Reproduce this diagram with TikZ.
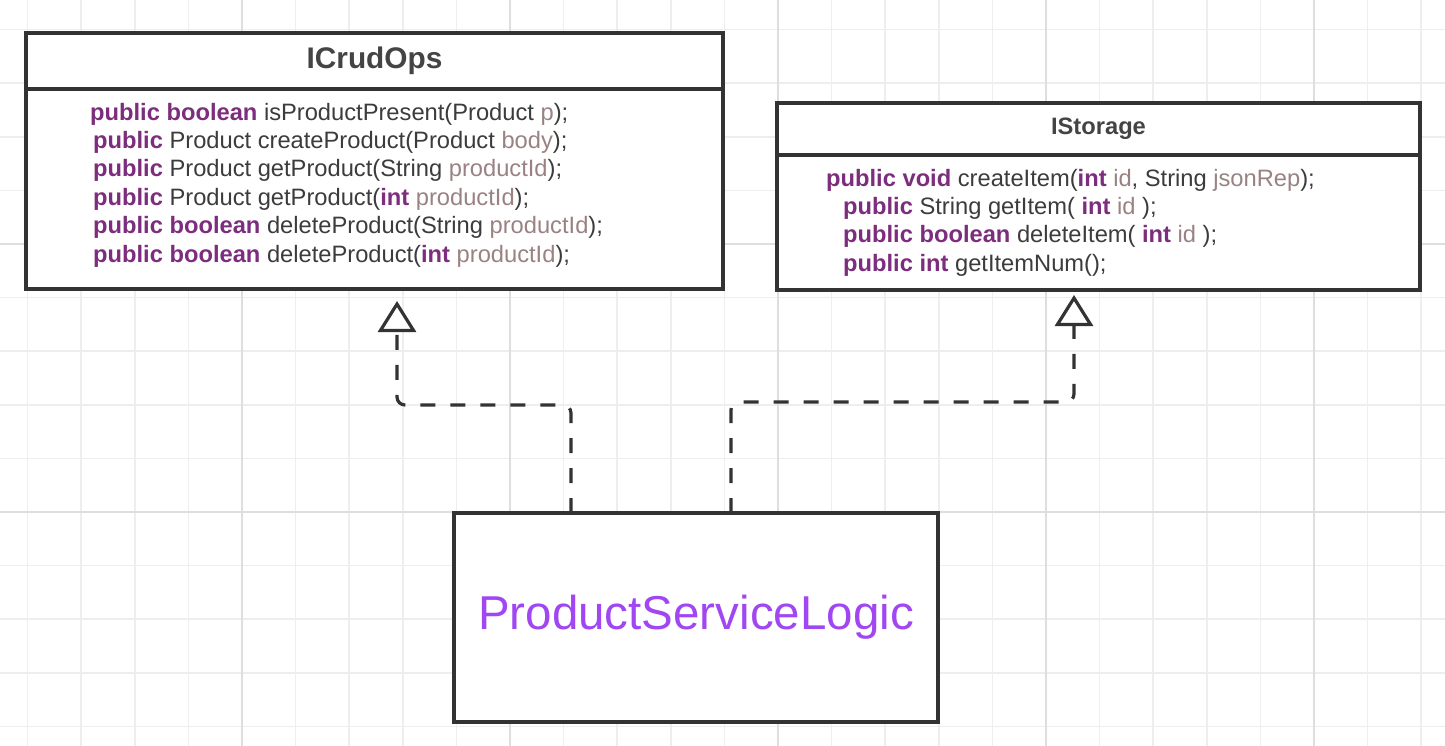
\documentclass[tikz,border=0pt]{standalone}
\usepackage{fontspec}
\setmainfont{Liberation Sans}
\usetikzlibrary{positioning,arrows.meta}
\definecolor{gridminor}{HTML}{EEEEEE}
\definecolor{gridmajor}{HTML}{DEDEDE}
\definecolor{umlline}{HTML}{333333}
\definecolor{titlegray}{HTML}{444444}
\definecolor{codegray}{HTML}{3C3C3C}
\definecolor{kwpurple}{HTML}{7D2D7D}
\definecolor{parmauve}{HTML}{9A8282}
\definecolor{implpurple}{HTML}{A046F2}
\newcommand{\kwd}[1]{\textcolor{kwpurple}{\textbf{#1}}}
\newcommand{\prm}[1]{\textcolor{parmauve}{#1}}

\begin{document}
\begin{tikzpicture}[x=1pt, y=-1pt,
  classbox/.style={draw=umlline, line width=3.2pt, fill=white, outer sep=0pt, inner sep=0pt},
  classtitle/.style={classbox, text=titlegray},
  methods/.style={inner sep=0pt, anchor=west, align=left, text=codegray, font=\fontsize{23.7}{28.4}\selectfont},
  realize/.style={draw=umlline, line width=3.2pt, dash pattern=on 15pt off 15pt, rounded corners=8pt,
    -{Triangle[length=31pt, width=38pt, fill=white]}}]
  \useasboundingbox (0,0) rectangle (1445,746);
  \fill[white] (0,0) rectangle (1445,746);
  \foreach \i in {-4,...,22} \draw[gridminor, line width=1.5pt] ({242+53.6*\i},0) -- ({242+53.6*\i},746);
  \foreach \j in {-9,...,4} \draw[gridminor, line width=1.5pt] (0,{512+53.6*\j}) -- (1445,{512+53.6*\j});
  \foreach \i in {0,5,10,15,20} \draw[gridmajor, line width=1.5pt] ({242+53.6*\i},0) -- ({242+53.6*\i},746);
  \foreach \j in {-5,0} \draw[gridmajor, line width=1.5pt] (0,{512+53.6*\j}) -- (1445,{512+53.6*\j});

  \node[classtitle, font=\bfseries\fontsize{29.8}{34}\selectfont, minimum width=697pt, minimum height=56pt] (crudhead) at (374.5,61) {ICrudOps};
  \node[classbox, minimum width=697pt, minimum height=200pt, below=0pt of crudhead] (crudbody) {};
  \node[methods] (crudops) at ([xshift=64pt, yshift=4pt]crudbody.west) {%
    \kwd{public boolean} isProductPresent(Product \prm{p});\\
    \hspace*{3pt}\kwd{public} Product createProduct(Product \prm{body});\\
    \hspace*{3pt}\kwd{public} Product getProduct(String \prm{productId});\\
    \hspace*{3pt}\kwd{public} Product getProduct(\kwd{int} \prm{productId});\\
    \hspace*{3pt}\kwd{public boolean} deleteProduct(String \prm{productId});\\
    \hspace*{3pt}\kwd{public boolean} deleteProduct(\kwd{int} \prm{productId});};

  \node[classtitle, font=\bfseries\fontsize{23.7}{28}\selectfont, minimum width=643pt, minimum height=52pt] (storehead) at (1098.5,129) {IStorage};
  \node[classbox, minimum width=643pt, minimum height=135pt, below=0pt of storehead] (storebody) {};
  \node[methods] (storeops) at ([xshift=49pt]storebody.west) {%
    \kwd{public void} createItem(\kwd{int} \prm{id}, String \prm{jsonRep});\\
    \hspace*{17pt}\kwd{public} String getItem( \kwd{int} \prm{id} );\\
    \hspace*{17pt}\kwd{public boolean} deleteItem( \kwd{int} \prm{id} );\\
    \hspace*{17pt}\kwd{public int} getItemNum();};

  \node[classbox, minimum width=484pt, minimum height=209pt, text=implpurple, font=\fontsize{47.5}{56}\selectfont] (logic) at (696,617.5) {ProductServiceLogic};

  \draw[realize] ([xshift=-125pt]logic.north) -- ++(0,-108) -| ([xshift=22.5pt, yshift=-12pt]crudbody.south);
  \draw[realize] ([xshift=35pt]logic.north) -- ++(0,-111) -| ([xshift=-24.5pt, yshift=-5pt]storebody.south);
\end{tikzpicture}
\end{document}
